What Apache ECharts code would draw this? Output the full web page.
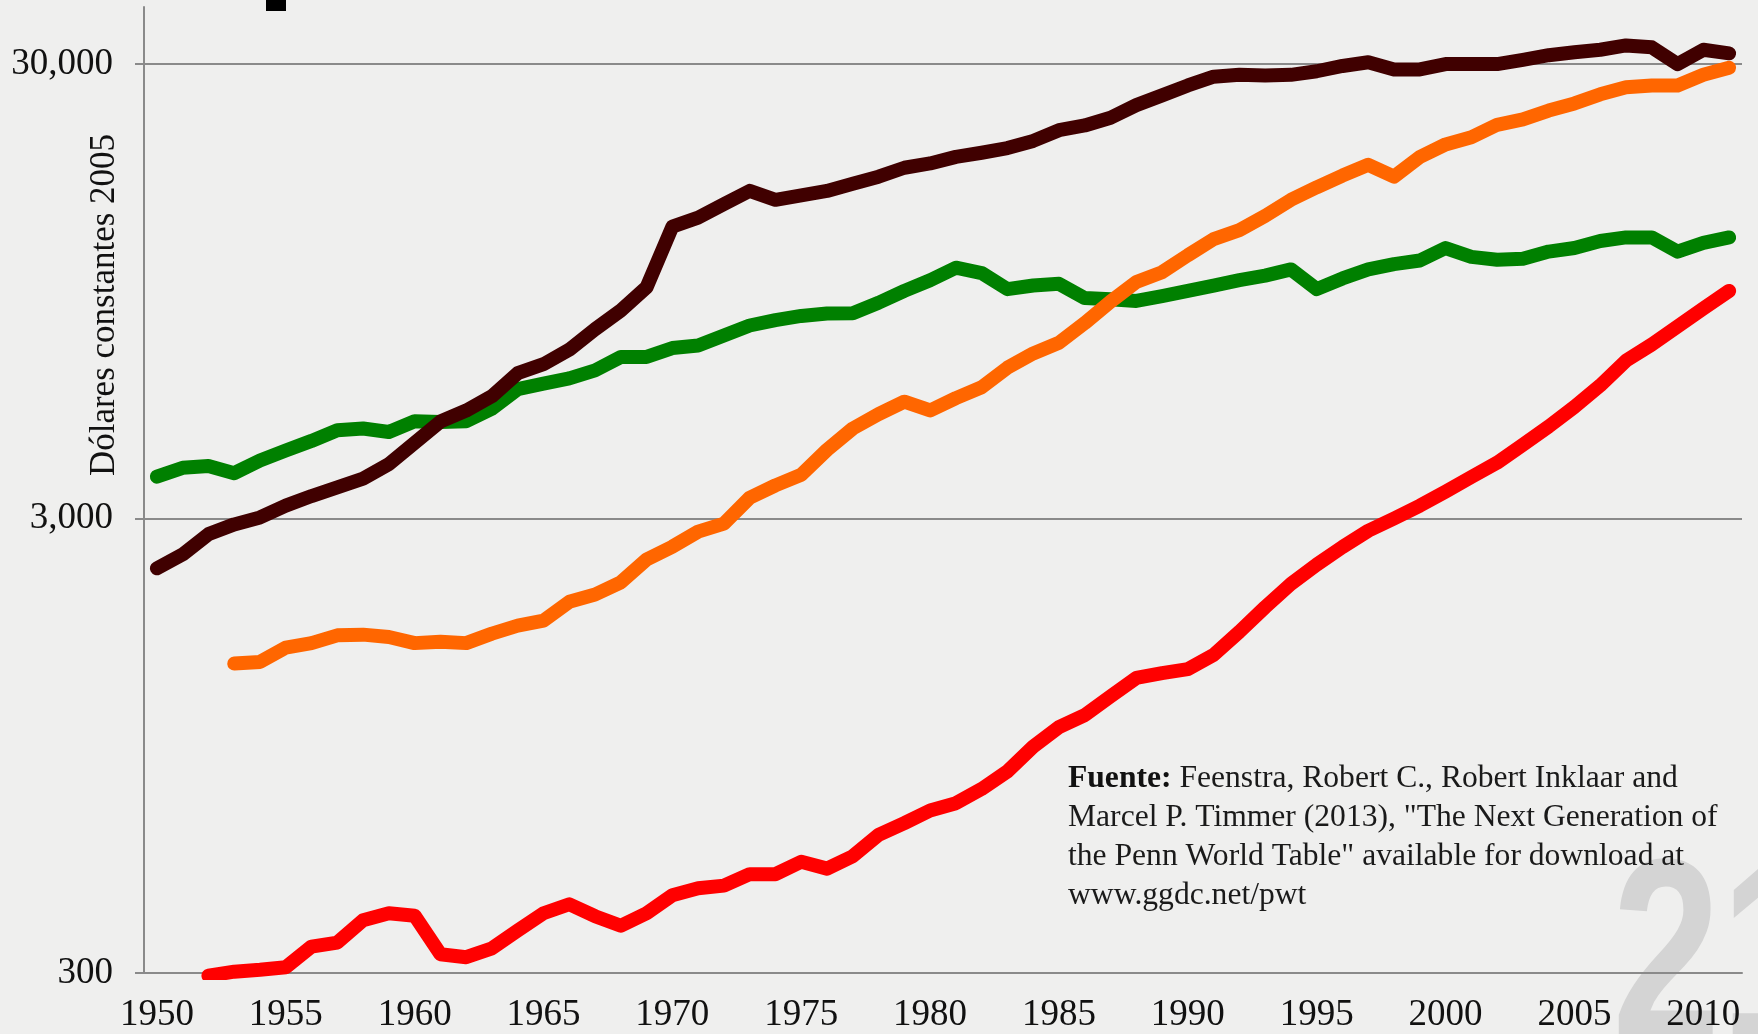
<!DOCTYPE html>
<html lang="es">
<head>
<meta charset="utf-8">
<title>PIB per cápita</title>
<script src="https://cdn.jsdelivr.net/npm/echarts@6.0.0/dist/echarts.min.js"></script>
<style>
  html, body { margin: 0; padding: 0; background: #efefee; }
  #chart { width: 1758px; height: 1034px; }
</style>
</head>
<body>
<div id="chart"></div>
<script>
const years = [
  "1950", "1951", "1952", "1953", "1954", "1955", "1956", "1957", "1958", "1959",
  "1960", "1961", "1962", "1963", "1964", "1965", "1966", "1967", "1968", "1969",
  "1970", "1971", "1972", "1973", "1974", "1975", "1976", "1977", "1978", "1979",
  "1980", "1981", "1982", "1983", "1984", "1985", "1986", "1987", "1988", "1989",
  "1990", "1991", "1992", "1993", "1994", "1995", "1996", "1997", "1998", "1999",
  "2000", "2001", "2002", "2003", "2004", "2005", "2006", "2007", "2008", "2009",
  "2010", "2011"
];

const yTicks = [300, 3000, 30000];

const darkSeries = [
  2330, 2500, 2770, 2910, 3015, 3200, 3360, 3510, 3670, 3950,
  4400, 4900, 5180, 5570, 6260, 6550, 7050, 7820, 8600, 9670,
  13150, 13760, 14740, 15760, 15060, 15400, 15760, 16340, 16940, 17720,
  18110, 18720, 19120, 19580, 20300, 21430, 21950, 22830, 24330, 25570,
  26880, 28110, 28370, 28270, 28370, 28890, 29670, 30230, 29160, 29160,
  29960, 29960, 29960, 30610, 31330, 31800, 32210, 32920, 32620, 29960,
  32210, 31630
];

const greenSeries = [
  3706, 3877, 3913, 3773, 4023, 4231, 4442, 4687, 4730, 4647,
  4907, 4890, 4907, 5227, 5775, 5935, 6096, 6350, 6795, 6795,
  7110, 7201, 7575, 7969, 8187, 8365, 8471, 8485, 8943, 9496,
  10024, 10681, 10395, 9582, 9757, 9846, 9158, 9108, 9025, 9244,
  9496, 9757, 10024, 10261, 10588, 9582, 10114, 10588, 10875, 11076,
  11798, 11281, 11117, 11176, 11587, 11798, 12225, 12451, 12451, 11587,
  12116, 12451
];

const orangeSeries = [
  null, null, null, 1438, 1450, 1559, 1595, 1659, 1665, 1645,
  1595, 1607, 1595, 1674, 1743, 1788, 1966, 2040, 2170, 2437,
  2600, 2806, 2922, 3330, 3546, 3741, 4245, 4730, 5088, 5419,
  5182, 5518, 5829, 6435, 6918, 7302, 8069, 8995, 9937, 10440,
  11375, 12342, 12914, 13883, 15063, 16050, 17033, 17984, 16940, 18717,
  19945, 20673, 22025, 22635, 23677, 24548, 25697, 26637, 26880, 26880,
  28370, 29410
];

const redSeries = [
  null, null, 296, 302, 305, 309, 343, 350, 392, 406,
  401, 330, 325, 340, 372, 406, 425, 400, 381, 406,
  445, 461, 467, 495, 495, 527, 509, 542, 604, 641,
  683, 709, 762, 833, 944, 1042, 1108, 1218, 1337, 1370,
  1398, 1503, 1690, 1914, 2153, 2374, 2595, 2818, 2998, 3200,
  3436, 3700, 3979, 4357, 4778, 5279, 5882, 6669, 7240, 7928,
  8688, 9496
];

const serif = '"Liberation Serif", "DejaVu Serif", serif';
const gridGrey = "#8a8a8a";

function lineSeries(data, color) {
  return {
    type: "line",
    data,
    symbol: "none",
    connectNulls: false,
    lineStyle: { color, width: 14, cap: "round", join: "round" },
    emphasis: { disabled: true }
  };
}

const chart = echarts.init(document.getElementById("chart"), null, { renderer: "canvas" });

chart.setOption({
  animation: false,
  backgroundColor: "#efefee",
  grid: { left: 144, right: 16, top: 7, bottom: 61, outerBoundsMode: "none" },
  xAxis: {
    type: "category",
    data: years,
    boundaryGap: true,
    axisLine: { lineStyle: { color: gridGrey, width: 2 } },
    axisTick: { interval: 0, length: 9, lineStyle: { color: gridGrey, width: 2 } },
    axisLabel: { interval: 4, margin: 24, fontSize: 37, fontFamily: serif, color: "#111" },
    splitLine: { show: false }
  },
  yAxis: {
    type: "log",
    logBase: 10,
    min: 300,
    max: 40000,
    axisLine: { show: true, lineStyle: { color: gridGrey, width: 2 } },
    axisTick: { show: true, customValues: yTicks, length: 9, lineStyle: { color: gridGrey, width: 2 } },
    axisLabel: {
      customValues: yTicks,
      margin: 31,
      fontSize: 37,
      fontFamily: serif,
      color: "#111",
      formatter: (v) => Math.round(v).toLocaleString("en-US")
    },
    splitLine: { show: true, lineStyle: { color: gridGrey, width: 2 } },
    minorSplitLine: { show: false }
  },
  graphic: [
    {
      type: "text",
      z: -10,
      x: 1612,
      y: 968,
      scaleX: 0.75,
      style: {
        text: "21",
        fontSize: 260,
        fontWeight: "bold",
        fontFamily: '"Liberation Sans", Arial, sans-serif',
        fill: "#d4d4d4",
        verticalAlign: "middle"
      }
    },
    {
      type: "rect",
      shape: { x: 266, y: 0, width: 20, height: 11 },
      style: { fill: "#000" }
    },
    {
      type: "text",
      x: 105,
      y: 305,
      rotation: Math.PI / 2,
      style: {
        text: "Dólares constantes 2005",
        fontSize: 35,
        fontFamily: serif,
        fill: "#111",
        align: "center",
        verticalAlign: "middle"
      }
    },
    {
      type: "text",
      x: 1068,
      y: 759,
      style: {
        text:
          "{b|Fuente:} Feenstra, Robert C., Robert Inklaar and\n" +
          'Marcel P. Timmer (2013), "The Next Generation of\n' +
          'the Penn World Table" available for download at\n' +
          "www.ggdc.net/pwt",
        fontSize: 31.6,
        fontFamily: serif,
        lineHeight: 39,
        fill: "#1a1a1a",
        rich: {
          b: { fontSize: 31.6, fontFamily: serif, fontWeight: "bold", lineHeight: 39, fill: "#111" }
        }
      }
    }
  ],
  series: [
    lineSeries(greenSeries, "#008000"),
    lineSeries(darkSeries, "#400000"),
    lineSeries(orangeSeries, "#ff6600"),
    lineSeries(redSeries, "#ff0000")
  ]
});
</script>
</body>
</html>
